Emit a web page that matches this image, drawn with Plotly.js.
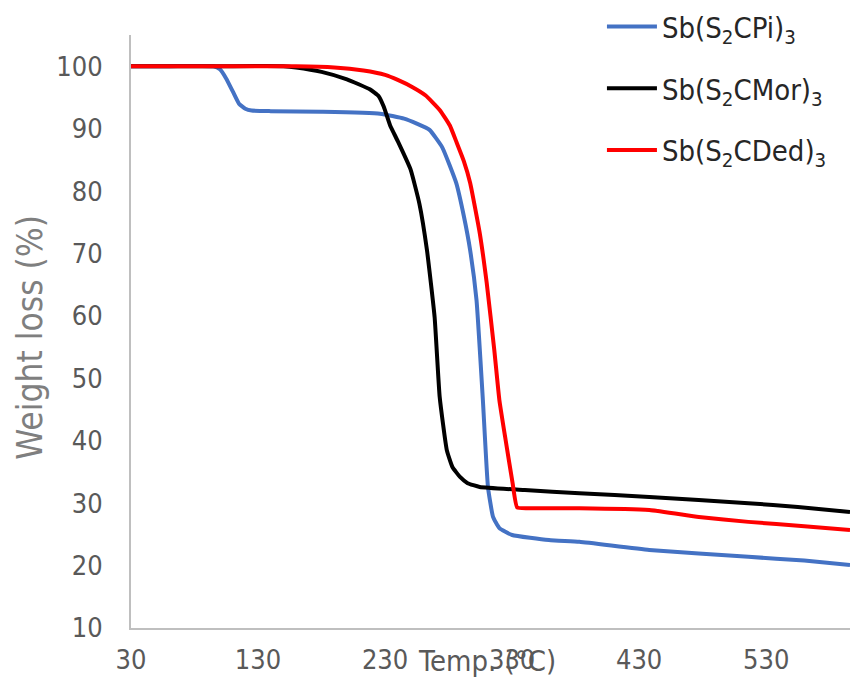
<!DOCTYPE html>
<html>
<head>
<meta charset="utf-8">
<script src="https://cdn.plot.ly/plotly-3.0.1.min.js"></script>
<style>
html,body{margin:0;padding:0;background:#fff;}
#chart{width:850px;height:691px;}
</style>
</head>
<body>
<div id="chart"></div>
<script>
// Temperature (°C) and weight (%)
const piTemp = [30, 60, 95, 100, 105, 110, 115, 120, 125, 140, 180, 226, 245, 255, 265, 275, 286, 292, 297, 302, 307, 311, 315, 320, 330, 359, 383, 438, 516, 560, 596];
const piWeight = [100, 100, 100, 99.5, 98, 96, 94, 93.2, 92.9, 92.8, 92.7, 92.4, 91.6, 90.8, 89.8, 87, 81.3, 76, 70.5, 62.5, 46.5, 32.6, 27.8, 26, 24.9, 24.1, 23.8, 22.5, 21.4, 20.8, 20.1];

const morTemp = [30, 100, 150, 160, 180, 200, 218, 225, 229, 234, 240, 250, 257, 263, 269, 273, 278.6, 283, 289, 295, 304.5, 340, 383, 438, 516, 555, 596];
const morWeight = [100, 100, 100, 99.8, 99.1, 97.9, 96.3, 95.2, 93.5, 90.5, 88, 83.5, 78, 70.5, 59.8, 47, 38.5, 35.8, 34.2, 33.2, 32.6, 32.1, 31.6, 31, 30, 29.4, 28.6];

const dedTemp = [30, 100, 160, 190, 213, 230, 240, 252, 262, 273, 281, 286.5, 292, 297, 304.5, 310, 316, 320, 325, 330.4, 334, 345, 383, 438, 477, 516, 560, 596];
const dedWeight = [100, 100, 100, 99.8, 99.3, 98.6, 97.8, 96.6, 95.3, 93, 90.5, 87.7, 84.8, 81.3, 73.3, 65.3, 54.5, 46.5, 40, 33.2, 29.3, 29.2, 29.2, 28.9, 27.8, 27, 26.3, 25.7];

const seriesNames = ['Sb(S<sub>2</sub>CPi)<sub>3</sub>', 'Sb(S<sub>2</sub>CMor)<sub>3</sub>', 'Sb(S<sub>2</sub>CDed)<sub>3</sub>'];
const xTicks = [30, 130, 230, 330, 430, 530];
const yTicks = [10, 20, 30, 40, 50, 60, 70, 80, 90, 100];

const FONT = '"DejaVu Sans Condensed", "Liberation Sans Narrow", Lato, sans-serif';
const colors = ['#4472C4', '#000000', '#FF0000'];
const xs = [piTemp, morTemp, dedTemp];
const ys = [piWeight, morWeight, dedWeight];

const traces = xs.map((x, i) => ({
  x: x, y: ys[i], type: 'scatter', mode: 'lines', name: seriesNames[i],
  legendgroup: 'g' + i,
  line: {color: colors[i], width: 4, shape: 'spline', smoothing: 0.4}
}));

const layout = {
  width: 850, height: 691,
  margin: {l: 131, r: 0, t: 35, b: 63},
  paper_bgcolor: '#ffffff', plot_bgcolor: '#ffffff',
  font: {family: FONT, color: '#595959'},
  showlegend: true,
  legend: {
    x: 0.655, y: 1.057, xanchor: 'left', yanchor: 'top',
    bgcolor: 'rgba(0,0,0,0)',
    font: {family: FONT, size: 29, color: '#262626'},
    tracegroupgap: 21,
    itemwidth: 50
  },
  xaxis: {
    range: [30, 596], tickvals: xTicks, ticktext: xTicks.map(String),
    showgrid: false, zeroline: false, showline: true, linecolor: '#BFBFBF', linewidth: 2,
    ticks: '', ticklabelstandoff: 7,
    tickfont: {family: FONT, size: 27, color: '#595959'}
  },
  yaxis: {
    range: [10, 105], tickvals: yTicks, ticktext: yTicks.map(String),
    showgrid: false, zeroline: false, showline: true, linecolor: '#BFBFBF', linewidth: 2,
    ticks: '', ticklabelstandoff: 21,
    tickfont: {family: FONT, size: 27, color: '#595959'}
  },
  annotations: [
    {text: 'Temp. (°C)', xref: 'paper', yref: 'paper', x: 0.495, y: 0, xanchor: 'center', yanchor: 'top',
     yshift: -14, showarrow: false, font: {family: FONT, size: 29, color: '#595959'}},
    {text: 'Weight loss (%)', xref: 'paper', yref: 'paper', x: -0.14, y: 0.49, xanchor: 'center', yanchor: 'middle',
     textangle: -90, showarrow: false, font: {family: FONT, size: 35, color: '#7F7F7F'}}
  ]
};

Plotly.newPlot('chart', traces, layout, {displayModeBar: false, staticPlot: true});
</script>
</body>
</html>
